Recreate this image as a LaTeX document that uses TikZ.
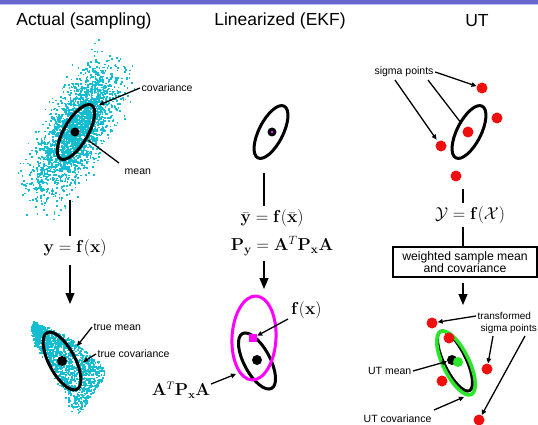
\documentclass[tikz,border=0pt]{standalone}
\usepackage[no-math]{fontspec}
\setmainfont{Liberation Sans}
\usetikzlibrary{arrows.meta,calc}
\definecolor{cloudc}{RGB}{20,190,210}
\definecolor{sigred}{RGB}{240,15,15}
\definecolor{mag}{RGB}{255,0,255}
\definecolor{utgreen}{RGB}{40,230,40}
\definecolor{barp}{RGB}{102,102,204}
\definecolor{barl}{RGB}{190,190,235}
\begin{document}
\begin{tikzpicture}[x=1pt,y=-1pt,
 title/.style={font=\fontsize{17.5}{20}\selectfont, inner sep=0},
 lbl/.style={font=\fontsize{10.5}{12}\selectfont, inner sep=1.5pt},
 formula/.style={font=\fontsize{16.5}{18}\selectfont, inner sep=0},
 ell/.style={line width=3pt},
 dotk/.style={circle, fill=black, inner sep=0, minimum size=9pt},
 sig/.style={circle, fill=sigred, inner sep=0, minimum size=11pt},
 lead/.style={line width=1.3pt, -{Triangle[length=5pt,width=4.5pt]}},
 leadn/.style={line width=1.3pt},
 flow/.style={line width=1.2pt},
 flowar/.style={line width=1.2pt, -{Triangle[length=11pt,width=9pt]}},
 cloud/.style={fill=cloudc},
]
\useasboundingbox (0,0) rectangle (538,425);
\clip (0,0) rectangle (538,425);
\fill[white] (0,0) rectangle (538,425);
\fill[barp] (0,0) rectangle (538,4.5);
\fill[barl] (0,4.5) rectangle (538,5.5);

% titles
\node[title] (t1) at (84,21) {Actual (sampling)};
\node[title] (t2) at (280,21) {Linearized (EKF)};
\node[title] (t3) at (477,21) {UT};

% ---------- column 1: sampling ----------
\pgfmathsetseed{4242}
\foreach \i in {1,...,2500}{
  \pgfmathsetmacro\u{34*(rand+rand+rand)}
  \pgfmathsetmacro\v{13.5*(rand+rand+rand)}
  \pgfmathsetmacro\px{75+0.469*\u+0.883*\v}
  \pgfmathsetmacro\py{130-0.883*\u+0.469*\v}
  \fill[cloud] (\px,\py) rectangle ++(1.7,1.7);
}
\foreach \i in {1,...,1500}{
  \pgfmathsetmacro\s{0.5+0.5*rand}
  \pgfmathsetmacro\w{0.8*abs(rand)+0.2*abs(rand)*abs(rand)}
  \pgfmathsetmacro\t{62*sqrt(\s)*\w-7*sin(180*\s)-1}
  \pgfmathsetmacro\px{33+74*\s-0.56*\t}
  \pgfmathsetmacro\py{322+50*\s+0.83*\t}
  \fill[cloud] (\px,\py) rectangle ++(1.7,1.7);
}

\draw[ell, rotate around={60:(76,132)}] (76,132) ellipse [x radius=31, y radius=12];
\node[dotk] (m1) at (75,132) {};
\node[lbl, anchor=west] (lcov) at (140,88) {covariance};
\coordinate (cov1) at (99,105);
\draw[lead] (lcov.west) -- (cov1);
\node[lbl, anchor=west] (lmean) at (123,172) {mean};
\coordinate (mean0) at (119,163);
\coordinate (mean1) at (88,140);
\draw[leadn] (mean0) -- (mean1);

\coordinate (f1a) at (70,200);
\coordinate (f1b) at (70,236);
\draw[flow] (f1a) -- (f1b);
\node[formula] (fy) at (75,248) {$\mathbf{y}=\mathbf{f}(\mathbf{x})$};
\coordinate (f1c) at (70,265);
\coordinate (f1d) at (70,304);
\draw[flowar] (f1c) -- (f1d);

\draw[ell, rotate around={-62:(62,361)}] (62,361) ellipse [x radius=32, y radius=13];
\node[dotk, minimum size=10pt] (m2) at (62,361) {};
\node[lbl, anchor=west] (ltm) at (92,327) {true mean};
\coordinate (tm1) at (77,346);
\draw[lead] (ltm.west) -- (tm1);
\node[lbl, anchor=west] (ltc) at (96,354) {true covariance};
\coordinate (tc1) at (83,362);
\draw[lead] (ltc.west) -- (tc1);

% ---------- column 2: EKF ----------
\draw[ell, rotate around={63:(271,132)}] (271,132) ellipse [x radius=29, y radius=12];
\node[dotk] (m3) at (272,132) {};
\node[fill=mag, inner sep=0, minimum size=2.5pt] (m3c) at (272,132) {};
\coordinate (f2a) at (264,173);
\coordinate (f2b) at (264,206);
\draw[flow] (f2a) -- (f2b);
\node[formula] (fyb) at (272,218) {$\bar{\mathbf{y}}=\mathbf{f}(\bar{\mathbf{x}})$};
\node[formula] (fpy) at (282,246) {$\mathbf{P}_{\mathbf{y}}=\mathbf{A}^T\mathbf{P}_{\mathbf{x}}\mathbf{A}$};
\coordinate (f2c) at (264,261);
\coordinate (f2d) at (264,289);
\draw[flowar] (f2c) -- (f2d);

\draw[ell, rotate around={-62:(257,361)}] (257,361) ellipse [x radius=31, y radius=13];
\draw[ell, mag, rotate around={87:(254,338)}] (254,338) ellipse [x radius=42, y radius=22];
\node[dotk, minimum size=10pt] (m4) at (257,360) {};
\node[fill=mag, inner sep=0, minimum size=8pt] (msq) at (253,338) {};
\node[formula, anchor=west] (lfx) at (291,310) {$\mathbf{f}(\mathbf{x})$};
\coordinate (fx0) at (288,319);
\draw[lead] (fx0) -- (msq);
\node[formula, font=\fontsize{16}{18}\selectfont] (lata) at (181,390) {$\mathbf{A}^T\mathbf{P}_{\mathbf{x}}\mathbf{A}$};
\coordinate (ata0) at (211,384);
\coordinate (ata1) at (236,374);
\draw[lead] (ata0) -- (ata1);

% ---------- column 3: UT ----------
\draw[ell, rotate around={63:(469,132)}] (469,132) ellipse [x radius=29, y radius=12];
\node[sig] (s1) at (482,88) {};
\node[sig] (s2) at (497,118) {};
\node[sig] (s3) at (468,132) {};
\node[sig] (s4) at (441,146) {};
\node[sig] (s5) at (456,176) {};
\node[lbl] (lsig) at (404,72) {sigma points};
\draw[lead] (lsig.east) -- (s1);
\coordinate (sg2) at (395,80);
\coordinate (sg3) at (428,80);
\draw[lead, shorten >=2pt] (sg2) -- (s4);
\draw[leadn, shorten >=5pt] (sg3) -- (s3);

\coordinate (f3a) at (463,189);
\coordinate (f3b) at (463,203);
\draw[flow] (f3a) -- (f3b);
\node[formula] (fY) at (470,215) {$\mathcal{Y}=\mathbf{f}(\mathcal{X})$};
\coordinate (f3c) at (463,227);
\coordinate (f3d) at (463,247);
\draw[flow] (f3c) -- (f3d);
\node[draw, line width=1.4pt, minimum width=144pt, minimum height=30pt, align=center,
      font=\fontsize{12.2}{11}\selectfont, inner sep=0] (wbox) at (465,262)
      {weighted sample mean\\and covariance};
\coordinate (f3e) at (463,283);
\coordinate (f3f) at (463,305);
\draw[flowar] (f3e) -- (f3f);

\draw[ell, rotate around={-64:(455,361)}] (455,361) ellipse [x radius=33, y radius=11];
\draw[ell, utgreen, line width=3.5pt, rotate around={-64:(456,363)}] (456,363) ellipse [x radius=35, y radius=13];
\node[dotk, minimum size=10pt] (bdot) at (452,360) {};
\node[circle, fill=utgreen, inner sep=0, minimum size=10pt] (gdot) at (458,362) {};
\node[sig] (r1) at (432,323) {};
\node[sig] (r2) at (449,338) {};
\node[sig] (r3) at (487,369) {};
\node[sig] (r4) at (442,381) {};
\node[sig] (r5) at (479,420) {};
\node[lbl, anchor=west, font=\fontsize{10}{12}\selectfont] (ltr1) at (476,316) {transformed};
\node[lbl, anchor=west, font=\fontsize{10}{12}\selectfont] (ltr2) at (479,329) {sigma points};
\draw[lead] (ltr1.west) -- (r1);
\coordinate (tp2) at (493,336);
\coordinate (tp3) at (525,336);
\draw[lead] (tp2) -- (r3);
\draw[lead] (tp3) -- (r5);
\node[lbl, anchor=east] (lutm) at (413,371) {UT mean};
\draw[lead] (lutm.east) -- (bdot);
\node[lbl, anchor=west] (lutc) at (362,419) {UT covariance};
\coordinate (utc0) at (434,410);
\coordinate (utc1) at (464,397);
\draw[lead] (utc0) -- (utc1);
\end{tikzpicture}
\end{document}
